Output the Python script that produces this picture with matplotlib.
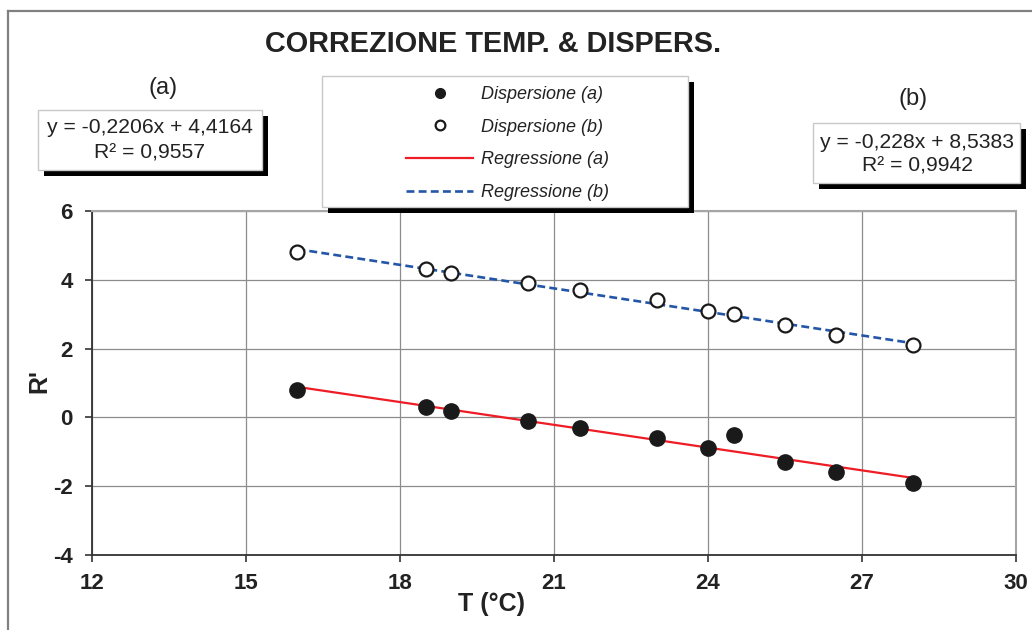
import numpy as np
import matplotlib.pyplot as plt
from matplotlib.patches import Rectangle
from matplotlib.lines import Line2D

plt.rcParams['font.family'] = ['Liberation Sans', 'DejaVu Sans']
plt.rcParams['axes.unicode_minus'] = False

# data
temp = [16, 18.5, 19, 20.5, 21.5, 23, 24, 24.5, 25.5, 26.5, 28]
disp_a = [0.8, 0.3, 0.2, -0.1, -0.3, -0.6, -0.9, -0.5, -1.3, -1.6, -1.9]
disp_b = [4.8, 4.3, 4.2, 3.9, 3.7, 3.4, 3.1, 3.0, 2.7, 2.4, 2.1]

# trend line coefficients (as printed on the chart)
slope_a, icpt_a, r2_a = -0.2206, 4.4164, 0.9557
slope_b, icpt_b, r2_b = -0.228, 8.5383, 0.9942

x_ticks = [12, 15, 18, 21, 24, 27, 30]
y_ticks = [-4, -2, 0, 2, 4, 6]

W, H = 1032, 630
fig = plt.figure(figsize=(W / 100, H / 100), dpi=100)
ax = fig.add_axes([92 / W, 1 - 555 / H, (1016 - 92) / W, (555 - 211) / H])

xs = np.array([min(temp), max(temp)])
ax.plot(xs, slope_a * xs + icpt_a, color='#EE1C25', lw=1.6, zorder=2, label='Regressione (a)')
ax.plot(xs, slope_b * xs + icpt_b, color='#2456A8', lw=1.9, ls=(0, (3, 1.6)), zorder=2, label='Regressione (b)')
ax.plot(temp, disp_a, 'o', color='#1a1a1a', ms=11, zorder=3, label='Dispersione (a)')
ax.plot(temp, disp_b, 'o', mfc='white', mec='#1a1a1a', mew=1.6, ms=10, zorder=3, label='Dispersione (b)')

ax.set_xlim(12, 30)
ax.set_ylim(-4, 6)
ax.set_xticks(x_ticks)
ax.set_yticks(y_ticks)
ax.grid(True, color='#8c8c8c', lw=0.9)
ax.set_axisbelow(True)
for s in ['top', 'right']:
    ax.spines[s].set_color('#a6a6a6')
    ax.spines[s].set_linewidth(1.5)
for s in ['left', 'bottom']:
    ax.spines[s].set_color('#333333')
    ax.spines[s].set_linewidth(1.3)
ax.tick_params(length=5, width=1.2, color='#333333', labelsize=16)
ax.tick_params(axis='x', pad=8)
ax.tick_params(axis='y', pad=9)
for lab in ax.get_xticklabels() + ax.get_yticklabels():
    lab.set_fontweight('bold')
    lab.set_color('#222222')

fig.text(491 / W, 1 - 604 / H, 'T (°C)', ha='center', va='center', fontsize=18, fontweight='bold', color='#222222')
fig.text(39 / W, 1 - 381 / H, "R'", ha='center', va='center', fontsize=18, fontweight='bold', rotation=90, color='#222222')
fig.text(493 / W, 1 - 44 / H, 'CORREZIONE TEMP. & DISPERS.', ha='center', va='center', fontsize=20.8, fontweight='bold', color='#222222')

# outer chart frame (only top and left visible)
fig.add_artist(Line2D([8 / W, 8 / W], [0, 1 - 11 / H], color='#808080', lw=1.6, transform=fig.transFigure))
fig.add_artist(Line2D([8 / W, 1], [1 - 11 / H, 1 - 11 / H], color='#808080', lw=1.6, transform=fig.transFigure))


def shadow_box(x0, y0, x1, y1, off=6):
    # box given in pixel coords from top-left
    fig.add_artist(Rectangle(((x0 + off) / W, 1 - (y1 + off) / H), (x1 - x0) / W, (y1 - y0) / H,
                             facecolor='black', edgecolor='none', transform=fig.transFigure, zorder=5))
    fig.add_artist(Rectangle((x0 / W, 1 - y1 / H), (x1 - x0) / W, (y1 - y0) / H,
                             facecolor='white', edgecolor='#c8c8c8', lw=1.0, transform=fig.transFigure, zorder=6))


def num(v):
    return str(v).replace('.', ',')


# equation boxes
shadow_box(38, 110, 262, 170)
fig.text(150 / W, 1 - 128 / H, 'y = %sx + %s' % (num(slope_a), num(icpt_a)),
         ha='center', va='center', fontsize=15.2, color='#222222', zorder=7)
fig.text(150 / W, 1 - 153 / H, 'R² = %s' % num(r2_a), ha='center', va='center', fontsize=15.2, color='#222222', zorder=7)
fig.text(163 / W, 1 - 88 / H, '(a)', ha='center', va='center', fontsize=17, color='#222222')

shadow_box(813, 123, 1020, 183)
fig.text(917 / W, 1 - 142 / H, 'y = %sx + %s' % (num(slope_b), num(icpt_b)),
         ha='center', va='center', fontsize=15.2, color='#222222', zorder=7)
fig.text(917 / W, 1 - 166 / H, 'R² = %s' % num(r2_b), ha='center', va='center', fontsize=15.2, color='#222222', zorder=7)
fig.text(913 / W, 1 - 99 / H, '(b)', ha='center', va='center', fontsize=17, color='#222222')

# legend
shadow_box(322, 76, 688, 207)
h, l = ax.get_legend_handles_labels()
order = [2, 3, 0, 1]
leg = fig.legend([h[i] for i in order], [l[i] for i in order], loc='upper left',
                 bbox_to_anchor=(390 / W, 1 - 70 / H), frameon=False, handlelength=3.7,
                 handletextpad=0.45, labelspacing=0.86, prop={'style': 'italic', 'size': 13})
leg.set_zorder(8)
for t in leg.get_texts():
    t.set_color('#222222')
for hd in leg.legend_handles:
    hd.set_markersize(7)

fig.savefig('out.png', dpi=100)
